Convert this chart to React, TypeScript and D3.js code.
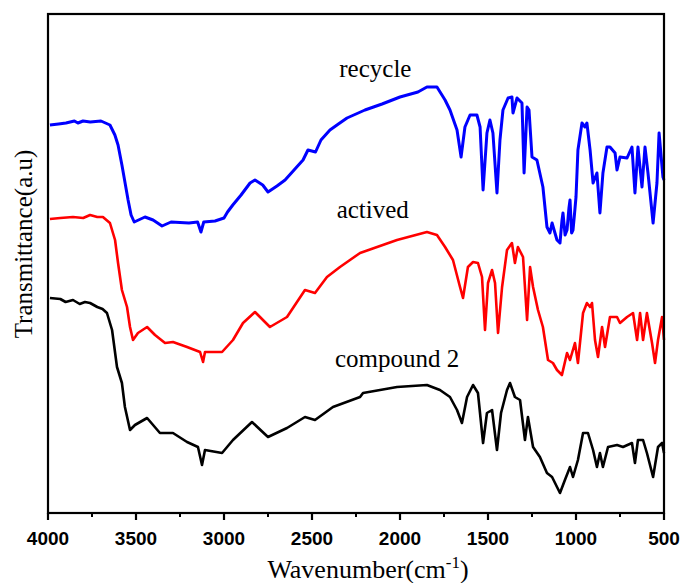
import React from "react";
import * as d3 from "d3";

// [wavenumber (cm-1), transmittance (a.u.)]
const recycle: [number, number][] = [
  [3989, 388], [3940, 389], [3898, 390], [3850, 392], [3830, 390], [3801, 392], [3760, 391], [3699, 392], [3648, 388], [3620, 378], [3602, 368],
  [3580, 348], [3560, 328], [3545, 313], [3528, 298], [3510, 291], [3449, 296], [3403, 293],
  [3352, 287], [3301, 291], [3199, 290], [3150, 291], [3131, 281], [3115, 291], [3051, 292],
  [3000, 295], [2980, 301], [2950, 308], [2903, 318], [2852, 330], [2824, 333], [2780, 328],
  [2750, 321], [2699, 327], [2653, 333], [2602, 343], [2551, 353], [2523, 363], [2480, 361],
  [2449, 373], [2398, 383], [2350, 389], [2301, 395], [2199, 403], [2102, 409], [2000, 416],
  [1898, 421], [1847, 426], [1801, 426], [1790, 426], [1744, 413], [1716, 403], [1676, 383],
  [1653, 356], [1631, 386], [1602, 398], [1563, 398], [1545, 386], [1528, 323], [1506, 380],
  [1489, 393], [1472, 380], [1449, 320], [1432, 373], [1415, 403], [1386, 415], [1364, 416],
  [1358, 400], [1335, 415], [1307, 410], [1295, 340], [1278, 406], [1267, 403], [1250, 356],
  [1222, 353], [1188, 326], [1165, 286], [1148, 280], [1136, 290], [1108, 273], [1091, 270],
  [1080, 292], [1074, 300], [1062, 278], [1051, 283], [1040, 305], [1034, 313], [1025, 280], [1017, 283], [1008, 300], [1000, 316], [989, 363], [966, 390],
  [949, 386], [938, 390], [920, 363], [903, 330], [881, 340], [864, 300], [847, 340],
  [824, 366], [807, 366], [778, 360], [767, 343], [750, 356], [710, 355], [682, 366],
  [665, 320], [648, 366], [625, 326], [608, 366], [591, 340], [562, 290], [540, 330],
  [528, 380], [506, 336], [500, 333],
];

const actived: [number, number][] = [
  [3989, 294], [3930, 295], [3858, 296], [3800, 295], [3761, 298], [3720, 296], [3688, 296], [3648, 290], [3619, 273], [3602, 250],
  [3580, 223], [3551, 206], [3534, 186], [3517, 173], [3489, 180], [3437, 186], [3392, 178],
  [3335, 170], [3290, 171], [3210, 166], [3136, 161], [3119, 151], [3108, 161], [3011, 161],
  [2949, 173], [2892, 190], [2824, 201], [2739, 186], [2642, 196], [2540, 223], [2483, 220],
  [2415, 236], [2341, 246], [2227, 260], [2017, 273], [1847, 281], [1790, 278], [1744, 266],
  [1699, 253], [1659, 226], [1642, 215], [1614, 246], [1585, 251], [1557, 250], [1534, 236],
  [1517, 183], [1500, 230], [1477, 243], [1460, 230], [1443, 180], [1420, 226], [1392, 263],
  [1364, 270], [1347, 250], [1330, 266], [1301, 256], [1278, 193], [1261, 246], [1244, 226],
  [1216, 203], [1188, 186], [1159, 153], [1131, 150], [1108, 143], [1080, 138], [1051, 160],
  [1034, 153], [1006, 170], [989, 150], [960, 200], [938, 210], [920, 206], [909, 210],
  [892, 173], [875, 156], [852, 186], [835, 166], [807, 196], [767, 196], [750, 190],
  [710, 196], [676, 200], [653, 173], [636, 200], [619, 173], [597, 200], [568, 170],
  [551, 150], [534, 173], [511, 196], [500, 173],
];

const compound2: [number, number][] = [
  [3989, 215], [3930, 214], [3900, 211], [3858, 213], [3820, 209], [3790, 211], [3761, 210], [3720, 206], [3690, 204], [3665, 200], [3636, 183], [3608, 146], [3580, 130],
  [3563, 106], [3534, 83], [3506, 88], [3437, 95], [3364, 80], [3290, 80], [3210, 71],
  [3148, 66], [3125, 48], [3108, 63], [3011, 60], [2949, 73], [2841, 91], [2750, 76],
  [2642, 85], [2540, 96], [2483, 93], [2381, 106], [2227, 116], [2210, 120], [2017, 126],
  [1847, 128], [1773, 123], [1716, 116], [1676, 103], [1648, 90], [1619, 116], [1585, 128],
  [1557, 120], [1528, 70], [1506, 100], [1477, 103], [1449, 63], [1426, 100], [1392, 123],
  [1375, 130], [1347, 116], [1318, 113], [1290, 73], [1273, 96], [1244, 66], [1205, 56],
  [1165, 40], [1136, 36], [1091, 20], [1063, 33], [1034, 46], [1017, 36], [989, 53],
  [960, 80], [932, 80], [903, 63], [881, 46], [864, 60], [847, 46], [818, 66], [767, 68],
  [733, 66], [682, 70], [665, 50], [648, 73], [619, 73], [597, 60], [562, 36], [534, 66],
  [511, 70], [500, 60],
];

const seriesNames = ["recycle", "actived", "compound 2"];
const seriesColors = ["#0000ff", "#ff0000", "#000000"];
const labelPositions: [number, number][] = [[2345, 436], [2360, 295], [2370, 146]];
const xTicks = [4000, 3500, 3000, 2500, 2000, 1500, 1000, 500];
const xMinorTicks = [3750, 3250, 2750, 2250, 1750, 1250, 750];

const W = 683, H = 583;
const L = 48, R = 664, T = 14, B = 513;

export default function App() {
  const x = d3.scaleLinear().domain([4000, 500]).range([L, R]);
  const y = d3.scaleLinear().domain([0, 499]).range([B, T]);
  const line = d3.line<[number, number]>().x(d => x(d[0])).y(d => y(d[1])).curve(d3.curveLinear);
  const data = [recycle, actived, compound2];
  return (
    <svg width={W} height={H} style={{ position: "absolute", left: 0, top: 0, background: "#fff" }}>
      <rect x={0} y={0} width={W} height={H} fill="#fff" />
      {data.map((d, i) => (
        <path key={i} d={line(d) || ""} fill="none" stroke={seriesColors[i]} strokeWidth={i === 0 ? 3 : 2.6} strokeLinejoin="round" />
      ))}
      <rect x={L} y={T} width={R - L} height={B - T} fill="none" stroke="#000" strokeWidth={2.2} />
      {xTicks.map(t => (
        <line key={t} x1={x(t)} x2={x(t)} y1={B} y2={B + 7} stroke="#000" strokeWidth={2.2} />
      ))}
      {xMinorTicks.map(t => (
        <line key={t} x1={x(t)} x2={x(t)} y1={B} y2={B + 4} stroke="#000" strokeWidth={2} />
      ))}
      {xTicks.map(t => (
        <text key={t} x={x(t)} y={545} textAnchor="middle" fontFamily="Liberation Sans, Arial, sans-serif" fontWeight="bold" fontSize={19}>{t}</text>
      ))}
      {seriesNames.map((n, i) => (
        <text key={n} x={x(labelPositions[i][0])} y={y(labelPositions[i][1])} fontFamily="Liberation Serif, Times New Roman, serif" fontSize={25} textAnchor="start">{n}</text>
      ))}
      <text x={368} y={578} textAnchor="middle" fontFamily="Liberation Serif, Times New Roman, serif" fontSize={26}>
        Wavenumber(cm<tspan dy={-10} fontSize={17}>-1</tspan><tspan dy={10}>)</tspan>
      </text>
      <text transform={`translate(32, 244) rotate(-90)`} textAnchor="middle" fontFamily="Liberation Serif, Times New Roman, serif" fontSize={25}>Transmittance(a.u)</text>
    </svg>
  );
}
